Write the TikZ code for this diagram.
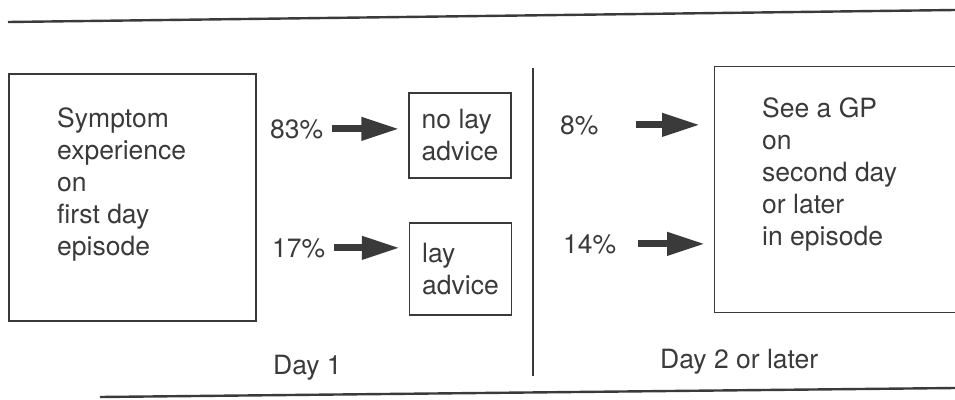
\documentclass[tikz,border=0pt]{standalone}
\usepackage{fontspec}
\setmainfont{TeX Gyre Heros}
\usetikzlibrary{positioning}
\usetikzlibrary{arrows.meta}
\definecolor{ink}{HTML}{3A3A3A}

\begin{document}
\begin{tikzpicture}[
x = 1pt, y = -1pt,
lbl/.style = {font = \fontsize{26.5pt}{32pt}\selectfont, text = ink, inner sep = 0pt, align = left},
box/.style = {shape = rectangle, draw = ink, line width = 1.4pt},
smallbox/.style = {box, lbl, minimum width = 102pt},
fat/.style = {draw = ink, line width = 7pt, -{Triangle[length = 38pt, width = 22pt]}},
rule/.style = {draw = ink, line width = 2.4pt},
]
\useasboundingbox (0, 0) rectangle (955, 399);
\clip (0, 0) rectangle (955, 399);

\draw[rule] (8, 22) -- (955, 10);
\draw[rule] (100, 397) -- (955, 388);
\draw[rule, line width = 2pt] (533, 68) -- (533, 376);

\node[box, minimum width = 247pt, minimum height = 247pt] (sym) at (132.5, 197.5) {};
\node[lbl, anchor = base west] (symtext) at (57, 255) {Symptom\\experience\\on\\first day\\episode};

\node[smallbox, minimum height = 85pt] (nolay) at (460, 135.5) {no lay\\advice};
\node[smallbox, minimum height = 92pt] (lay) at (460.5, 269) {lay\\advice};

\node[lbl, anchor = base west] (p83) at (270, 138) {83\%};
\node[lbl, anchor = base west] (p17) at (272, 257) {17\%};

\path (p83) edge[fat, shorten <= 9pt, shorten >= 9pt] (p83 -| nolay.west);
\path (p17) edge[fat, shorten <= 9pt, shorten >= 9pt] (p17 -| lay.west);

\node[box, minimum width = 280pt, minimum height = 246pt, anchor = north west] (gp) at (714, 66) {};
\node[lbl, anchor = base west] (gptext) at (762, 245) {See a GP\\on\\second day\\or later\\in episode};

\node[lbl, anchor = base west] (p8) at (560, 134) {8\%};
\node[lbl, anchor = base west] (p14) at (563, 253) {14\%};

\path (p8) edge[fat, shorten <= 37pt, shorten >= 14pt] (p8 -| gp.west);
\path (p14) edge[fat, shorten <= 22pt, shorten >= 9pt] (p14 -| gp.west);

\node[lbl, anchor = base west] (day1) at (273, 374) {Day 1};
\node[lbl, anchor = base west] (day2) at (660, 368) {Day 2 or later};
\end{tikzpicture}
\end{document}
